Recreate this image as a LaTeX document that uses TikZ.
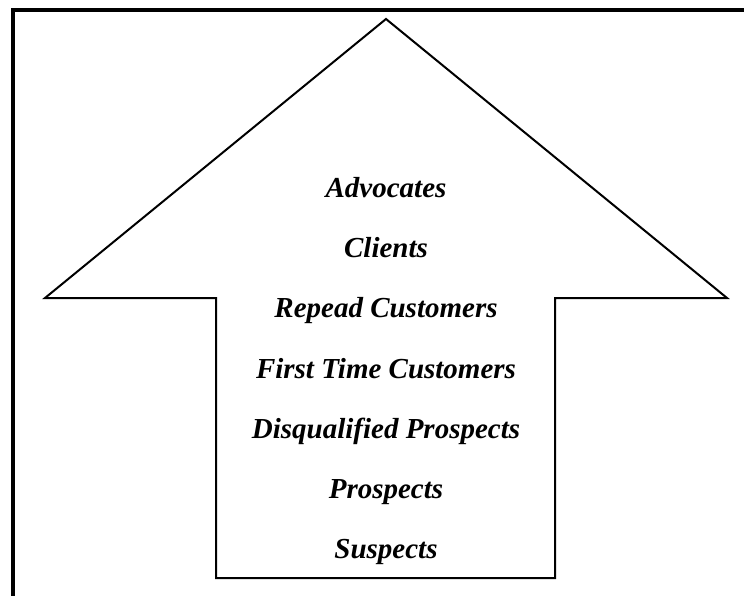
\documentclass[tikz,border=0pt]{standalone}
\usepackage{fontspec}
\setmainfont{Liberation Serif}
\usetikzlibrary{positioning}

\begin{document}
\begin{tikzpicture}[
    x=1pt, y=-1pt,
    frame/.style={draw=black, line width=3.4pt},
    uparrow/.style={draw=black, line width=2pt, fill=white},
    stage/.style={font=\fontsize{29}{34}\selectfont\bfseries\itshape, anchor=base, inner sep=0pt}
]
    \useasboundingbox (0,0) rectangle (744,596);
    \clip (0,0) rectangle (744,596);

    % outer frame, runs off the page on the right and bottom
    \draw[frame] (13,10) rectangle (780,630);

    % the big upward arrow
    \draw[uparrow] (386,19) -- (727,298) -- (555,298) -- (555,578)
        -- (216,578) -- (216,298) -- (45,298) -- cycle;

    \node (advocates) [stage] at (386,197) {Advocates};
    \node (clients) [stage] at (386,257) {Clients};
    \node (repeat) [stage] at (386,317) {Repead Customers};
    \node (firsttime) [stage] at (386,378) {First Time Customers};
    \node (disqualified) [stage] at (386,438) {Disqualified Prospects};
    \node (prospects) [stage] at (386,498) {Prospects};
    \node (suspects) [stage] at (386,558) {Suspects};
\end{tikzpicture}
\end{document}
